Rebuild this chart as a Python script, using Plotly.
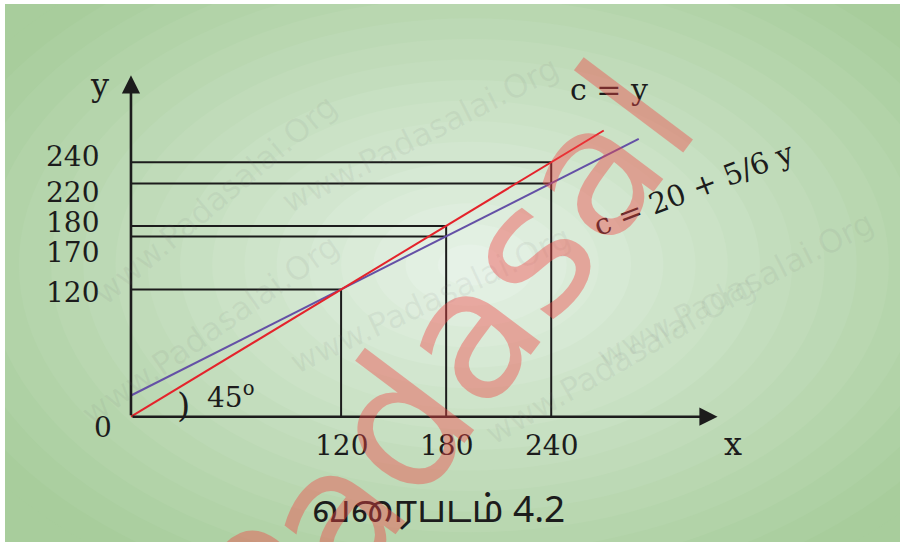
import plotly.graph_objects as go

# values
x_ticks = [120, 180, 240]
y_ticks = [120, 170, 180, 220, 240]

# 45 degree line c = y
c_eq_y_x = [0, 270]
c_eq_y_c = [0, 270]

# consumption function c = 20 + 5/6 y
cons_x = [0, 120, 180, 240, 290]
cons_c = [20, 120, 170, 220, 262]

# points joined to both axes by the thin guide lines
guide_x = [120, 180, 180, 240, 240]
guide_c = [120, 180, 170, 240, 220]

X_AXIS_END = 335
Y_AXIS_END = 322

# the drawing is not to scale, so crowded y labels are nudged apart (pixels)
y_label_nudge = {240: 6, 220: -9, 180: 3, 170: -16, 120: -3}

INK = '#1c1c1c'
SERIF = 'DejaVu Serif'
GREEN = '#a8cd9c'
W, H = 900, 542

fig = go.Figure()

# guide lines: horizontal to the y axis, vertical down to the x axis
hx, hy = [], []
for gx, gc in zip(guide_x, guide_c):
    hx += [0, gx, None]
    hy += [gc, gc, None]
vx, vy = [], []
for gx in sorted(set(guide_x)):
    top = max(c for x, c in zip(guide_x, guide_c) if x == gx)
    vx += [gx, gx, None]
    vy += [0, top, None]

fig.add_trace(go.Scatter(x=hx, y=hy, mode='lines',
                         line=dict(color=INK, width=2), hoverinfo='skip'))
fig.add_trace(go.Scatter(x=vx, y=vy, mode='lines',
                         line=dict(color=INK, width=2), hoverinfo='skip'))
fig.add_trace(go.Scatter(x=cons_x, y=cons_c, mode='lines',
                         line=dict(color='#6450a6', width=2), hoverinfo='skip'))
fig.add_trace(go.Scatter(x=c_eq_y_x, y=c_eq_y_c, mode='lines',
                         line=dict(color='#e4232b', width=2), hoverinfo='skip'))

# background: green with a pale centre, thin white edge top and left
outer = (168, 205, 156)
inner = (236, 246, 238)
steps = 18
cx, cy = 470 / W, 1 - 265 / H
for i in range(steps):
    t = 1 - i / steps
    k = t ** 0.9
    col = tuple(int(inner[j] + (outer[j] - inner[j]) * k) for j in range(3))
    rx = 580 * t / W
    ry = 370 * t / H
    fig.add_shape(type='circle', xref='paper', yref='paper',
                  x0=cx - rx, x1=cx + rx, y0=cy - ry, y1=cy + ry,
                  fillcolor='rgb(%d,%d,%d)' % col, line=dict(width=0), layer='below')
fig.add_shape(type='rect', xref='paper', yref='paper', x0=0, x1=5 / W, y0=0, y1=1,
              fillcolor='white', line=dict(width=0), layer='below')
fig.add_shape(type='rect', xref='paper', yref='paper', x0=0, x1=1, y0=1 - 4 / H, y1=1,
              fillcolor='white', line=dict(width=0), layer='below')

annotations = []

# axes with arrow heads
for ex, ey in [(X_AXIS_END, 0), (0, Y_AXIS_END)]:
    annotations.append(dict(x=ex, y=ey, ax=0, ay=0, xref='x', yref='y', axref='x', ayref='y',
                            text='', showarrow=True, arrowhead=2, arrowsize=1.4,
                            arrowwidth=2.6, arrowcolor=INK))

# tick labels
for v in y_ticks:
    annotations.append(dict(x=0, y=v, xref='x', yref='y', text=str(v), showarrow=False,
                            xanchor='right', yanchor='middle', xshift=-30,
                            yshift=y_label_nudge[v],
                            font=dict(family=SERIF, size=28, color=INK)))
for v in x_ticks:
    annotations.append(dict(x=v, y=0, xref='x', yref='y', text=str(v), showarrow=False,
                            xanchor='center', yanchor='middle', yshift=-29,
                            font=dict(family=SERIF, size=28, color=INK)))

annotations += [
    dict(x=0, y=0, xref='x', yref='y', text='0', showarrow=False, xshift=-28, yshift=-11,
         xanchor='center', yanchor='middle', font=dict(family=SERIF, size=28, color=INK)),
    dict(x=0, y=Y_AXIS_END, xref='x', yref='y', text='y', showarrow=False, xshift=-31, yshift=-10,
         xanchor='center', yanchor='middle', font=dict(family=SERIF, size=32, color=INK)),
    dict(x=X_AXIS_END, y=0, xref='x', yref='y', text='x', showarrow=False, xshift=15, yshift=-27,
         xanchor='center', yanchor='middle', font=dict(family=SERIF, size=32, color=INK)),
    dict(x=c_eq_y_x[-1], y=c_eq_y_c[-1], xref='x', yref='y', text='c = y', showarrow=False,
         xshift=5, yshift=41, xanchor='center', yanchor='middle',
         font=dict(family=SERIF, size=30, color=INK)),
    dict(x=cons_x[-1], y=cons_c[-1], xref='x', yref='y', text='c = 20 + 5/6 y', showarrow=False,
         textangle=-21, xshift=55, yshift=-50, xanchor='center', yanchor='middle',
         font=dict(family=SERIF, size=29, color=INK)),
    dict(x=0, y=0, xref='x', yref='y', text=')', showarrow=False, xshift=53, yshift=12,
         xanchor='center', yanchor='middle', font=dict(family=SERIF, size=34, color=INK)),
    dict(x=0, y=0, xref='x', yref='y', text='45<sup>o</sup>', showarrow=False, xshift=100, yshift=21,
         xanchor='center', yanchor='middle', font=dict(family=SERIF, size=28, color=INK)),
    dict(x=438 / W, y=1 - 510 / H, xref='paper', yref='paper', text='வரைபடம் 4.2',
         showarrow=False, xanchor='center', yanchor='middle', yshift=-3,
         font=dict(family='Noto Sans Tamil, Lohit Tamil, Noto Sans, sans-serif',
                   size=37, color=INK)),
]

# faint site watermarks
for px_, py_, ang in [(420, 135, -27), (430, 300, -25), (215, 200, -40),
                      (620, 360, -30), (735, 290, -27), (210, 330, -35)]:
    annotations.append(dict(x=px_ / W, y=1 - py_ / H, xref='paper', yref='paper',
                            text='www.Padasalai.Org', showarrow=False, textangle=ang,
                            xanchor='center', yanchor='middle',
                            font=dict(family='DejaVu Sans', size=32, color='rgba(120,120,120,0.09)')))

# big red watermark
annotations.append(dict(x=445 / W, y=1 - 364 / H, xref='paper', yref='paper', text='Padasal',
                        showarrow=False, textangle=-53, xanchor='center', yanchor='middle',
                        font=dict(family='DejaVu Sans', size=180, color='rgba(240,70,70,0.42)')))

fig.update_layout(
    width=W, height=H,
    margin=dict(l=0, r=0, t=0, b=0),
    paper_bgcolor=GREEN,
    plot_bgcolor='rgba(0,0,0,0)',
    showlegend=False,
    xaxis=dict(range=[-74.8, 439.2], visible=False, showgrid=False, fixedrange=True),
    yaxis=dict(range=[-118.2, 393.1], visible=False, showgrid=False, fixedrange=True),
    annotations=annotations,
)

fig.write_html("out.html", config={'displayModeBar': False},
               post_script="document.body.style.margin = '0px';"
                           "document.body.style.background = '%s';" % GREEN)
